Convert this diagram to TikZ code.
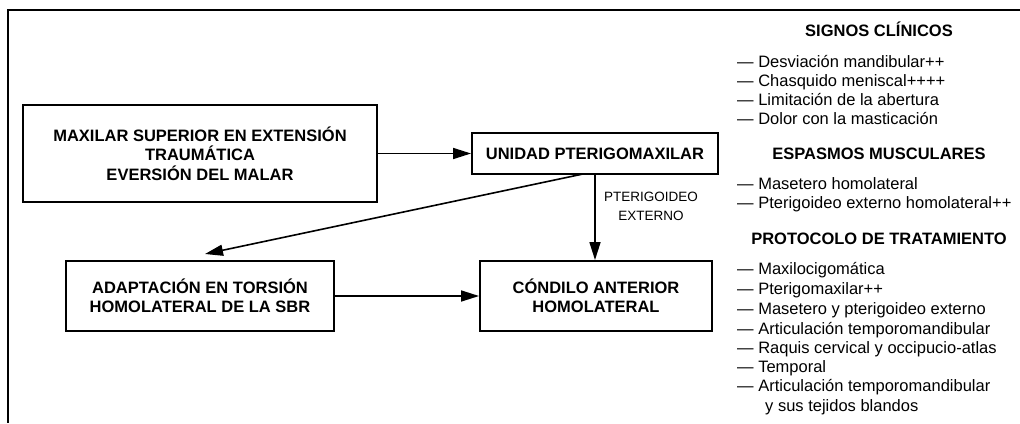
\documentclass[tikz,border=0pt]{standalone}
\usepackage{fontspec}
\setmainfont{Liberation Sans}
\usetikzlibrary{arrows.meta,calc}
\begin{document}
\begin{tikzpicture}[x=1pt,y=-1pt,
  boxnode/.style={draw, line width=1.9pt, inner sep=0pt, align=center,
    font=\bfseries\fontsize{16.5}{19.5}\selectfont},
  conn/.style={line width=1.6pt, -{Triangle[length=18pt,width=11pt]}},
  head/.style={anchor=base, font=\bfseries\fontsize{16.5}{19.5}\selectfont, inner sep=0pt},
  item/.style={anchor=base west, font=\fontsize{16.5}{19.5}\selectfont, inner sep=0pt},
  lbl/.style={align=center, font=\fontsize{13.5}{19}\selectfont, inner sep=0pt}]
\useasboundingbox (0,0) rectangle (1020,423);
\draw[line width=2.4pt] (1020,10) -- (8,10) -- (8,423);

\node[boxnode, minimum width=354pt, minimum height=97pt] (max) at (200,153.5)
  {MAXILAR SUPERIOR EN EXTENSIÓN\\TRAUMÁTICA\\EVERSIÓN DEL MALAR};
\node[boxnode, minimum width=246pt, minimum height=41pt] (uni) at (595,153.5)
  {UNIDAD PTERIGOMAXILAR};
\node[boxnode, minimum width=268pt, minimum height=70pt] (ada) at (200,296)
  {ADAPTACIÓN EN TORSIÓN\\HOMOLATERAL DE LA SBR};
\node[boxnode, minimum width=232pt, minimum height=70pt] (con) at (596,296)
  {CÓNDILO ANTERIOR\\HOMOLATERAL};

\coordinate (dstart) at (583,174);
\coordinate (dend) at (205,254);
\draw[conn] (max.east) -- (uni.west);
\draw[conn] (ada.east) -- (con.west);
\draw[conn] (uni.south) -- (uni.south |- con.north);
\draw[conn] (dstart) -- (dend);
\node[lbl] (pte) at (651,206) {PTERIGOIDEO\\EXTERNO};

\node[head] (h1) at (879,36) {SIGNOS CLÍNICOS};
\node[item] (a1) at (737,67) {— Desviación mandibular++};
\node[item] (a2) at (737,86) {— Chasquido meniscal++++};
\node[item] (a3) at (737,105) {— Limitación de la abertura};
\node[item] (a4) at (737,124) {— Dolor con la masticación};
\node[head] (h2) at (879,159) {ESPASMOS MUSCULARES};
\node[item] (b1) at (737,189) {— Masetero homolateral};
\node[item] (b2) at (737,208) {— Pterigoideo externo homolateral++};
\node[head] (h3) at (879,244) {PROTOCOLO DE TRATAMIENTO};
\node[item] (c1) at (737,274) {— Maxilocigomática};
\node[item] (c2) at (737,294) {— Pterigomaxilar++};
\node[item] (c3) at (737,314) {— Masetero y pterigoideo externo};
\node[item] (c4) at (737,334) {— Articulación temporomandibular};
\node[item] (c5) at (737,353) {— Raquis cervical y occipucio-atlas};
\node[item] (c6) at (737,372) {— Temporal};
\node[item] (c7) at (737,391) {— Articulación temporomandibular};
\node[item] (c8) at (765,411) {y sus tejidos blandos};
\end{tikzpicture}
\end{document}
